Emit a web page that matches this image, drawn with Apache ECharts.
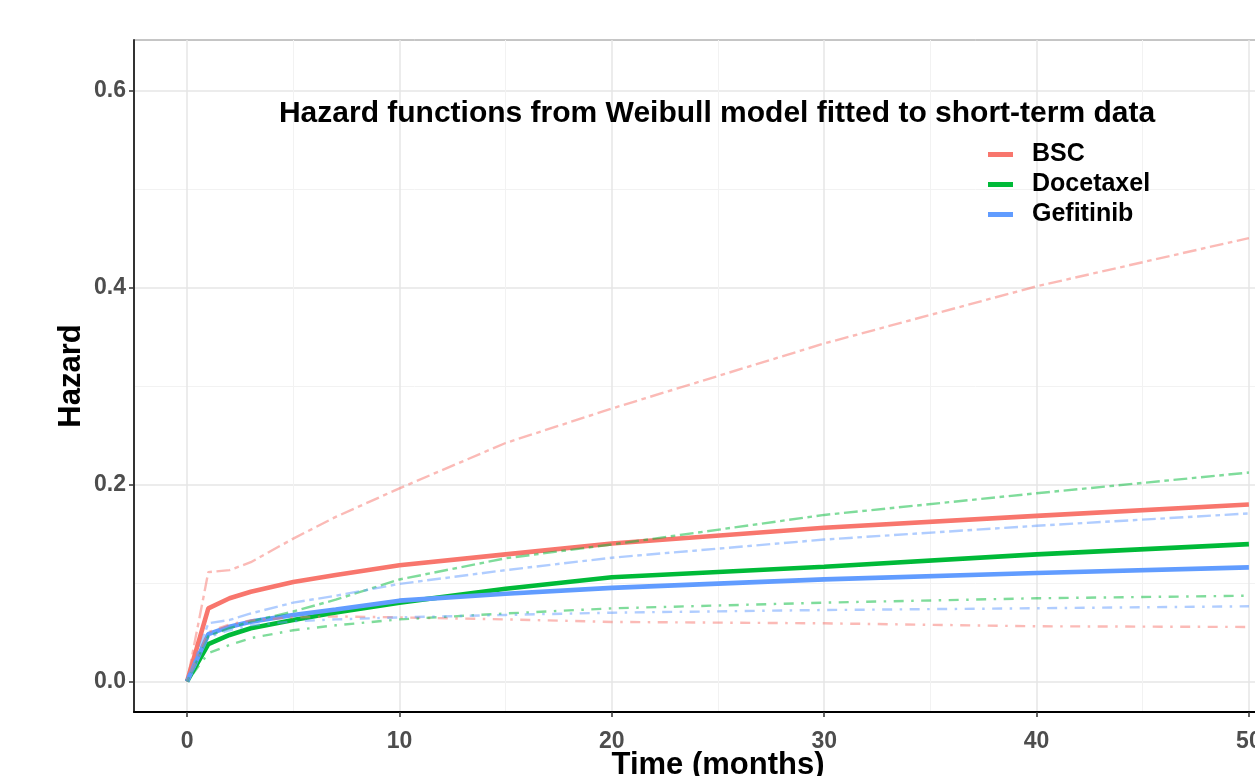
<!DOCTYPE html>
<html>
<head>
<meta charset="utf-8">
<script src="https://cdn.jsdelivr.net/npm/echarts@6/dist/echarts.min.js"></script>
<style>
  html, body { margin: 0; padding: 0; background: #ffffff; }
  #chart { width: 1255px; height: 776px; }
</style>
</head>
<body>
<div id="chart"></div>
<script>
// months at which the hazard curves are read
const times = [0, 1, 2, 3, 5, 7, 10, 15, 20, 30, 40, 50];

// fitted hazards (solid)
const bscFit = [0, 0.0742, 0.0844, 0.091, 0.101, 0.108, 0.118, 0.129, 0.140, 0.156, 0.168, 0.1796];
const docFit = [0, 0.038, 0.0472, 0.054, 0.0624, 0.070, 0.080, 0.094, 0.1057, 0.1164, 0.129, 0.1394];
const gefFit = [0, 0.048, 0.0556, 0.0607, 0.0675, 0.073, 0.082, 0.089, 0.095, 0.1036, 0.110, 0.1158];

// upper limits (twodash)
const bscUpper = [0, 0.111, 0.113, 0.121, 0.145, 0.167, 0.196, 0.242, 0.277, 0.343, 0.401, 0.450];
const docUpper = [0, 0.046, 0.054, 0.061, 0.071, 0.083, 0.1035, 0.125, 0.139, 0.169, 0.191, 0.212];
const gefUpper = [0, 0.059, 0.0624, 0.069, 0.080, 0.087, 0.099, 0.113, 0.1256, 0.144, 0.158, 0.1705];

// lower limits (dotdash)
const bscLower = [0, 0.05, 0.058, 0.062, 0.065, 0.066, 0.065, 0.063, 0.0604, 0.059, 0.056, 0.0553];
const docLower = [0, 0.0287, 0.037, 0.044, 0.052, 0.057, 0.063, 0.069, 0.0742, 0.080, 0.0844, 0.087];
const gefLower = [0, 0.045, 0.052, 0.057, 0.061, 0.063, 0.065, 0.0675, 0.0698, 0.0725, 0.0743, 0.0763];

const groups = ['BSC', 'Docetaxel', 'Gefitinib'];
const colors = ['#F8766D', '#00BA38', '#619CFF'];

const xTicks = [0, 10, 20, 30, 40, 50];
const yTicks = [0, 0.2, 0.4, 0.6];

const FONT = '"Liberation Sans", Arial, sans-serif';

function pairs(ys) {
  return times.map((t, i) => [t, ys[i]]);
}

function mkLine(name, ys, color, kind) {
  let lineStyle = { width: 4.6, color: color };
  if (kind == 'upper') lineStyle = { width: 2.4, color: color, opacity: 0.5, type: [4.6, 4.6, 13.8, 4.6] };
  if (kind == 'lower') lineStyle = { width: 2.4, color: color, opacity: 0.5, type: [2.5, 7.5, 10, 7.5] };
  return {
    name: name,
    type: 'line',
    data: pairs(ys),
    symbol: 'none',
    color: color,
    lineStyle: lineStyle,
    emphasis: { disabled: true },
    animation: false
  };
}

const chart = echarts.init(document.getElementById('chart'), null, { renderer: 'canvas' });

const series = [
  mkLine('BSC', bscFit, colors[0], 'fit'),
  mkLine('Docetaxel', docFit, colors[1], 'fit'),
  mkLine('Gefitinib', gefFit, colors[2], 'fit'),
  mkLine('BSC upper', bscUpper, colors[0], 'upper'),
  mkLine('Docetaxel upper', docUpper, colors[1], 'upper'),
  mkLine('Gefitinib upper', gefUpper, colors[2], 'upper'),
  mkLine('BSC lower', bscLower, colors[0], 'lower'),
  mkLine('Docetaxel lower', docLower, colors[1], 'lower'),
  mkLine('Gefitinib lower', gefLower, colors[2], 'lower')
];

chart.setOption({
  backgroundColor: '#ffffff',
  animation: false,
  title: {
    text: 'Hazard functions from Weibull model fitted to short-term data',
    left: 712,
    top: 94,
    textAlign: 'center',
    textStyle: { fontFamily: FONT, fontSize: 30, fontWeight: 'bold', color: '#000000' }
  },
  legend: {
    data: groups,
    orient: 'vertical',
    left: 983,
    top: 137,
    icon: 'rect',
    itemWidth: 25,
    itemHeight: 5,
    itemGap: 5,
    selectedMode: false,
    textStyle: { fontFamily: FONT, fontSize: 25, fontWeight: 'bold', color: '#000000', padding: [0, 0, 0, 14] }
  },
  grid: {
    left: 134,
    right: -47,
    top: 40,
    bottom: 64,
    show: true,
    borderColor: '#8c8c8c',
    borderWidth: 1,
    containLabel: false,
    outerBoundsMode: 'none'
  },
  xAxis: {
    type: 'value',
    min: -2.5,
    max: 52.5,
    splitNumber: 5,
    name: 'Time (months)',
    nameLocation: 'middle',
    nameGap: 38,
    nameMoveOverlap: false,
    nameTextStyle: { fontFamily: FONT, fontSize: 31, fontWeight: 'bold', color: '#000000' },
    axisLine: { show: true, onZero: false, lineStyle: { color: '#000000', width: 2 } },
    axisTick: { show: true, length: 5, customValues: xTicks, lineStyle: { color: '#333333', width: 1.5 } },
    axisLabel: {
      customValues: xTicks,
      margin: 18,
      fontFamily: FONT, fontSize: 23, fontWeight: 'bold', color: '#4D4D4D'
    },
    splitLine: { show: true, lineStyle: { color: '#e6e6e6', width: 1.5 } },
    minorTick: { show: false, splitNumber: 2 },
    minorSplitLine: { show: true, lineStyle: { color: '#f2f2f2', width: 1 } }
  },
  yAxis: {
    type: 'value',
    min: -0.031,
    max: 0.651,
    splitNumber: 3,
    name: 'Hazard',
    nameLocation: 'middle',
    nameGap: 47,
    nameMoveOverlap: false,
    nameTextStyle: { fontFamily: FONT, fontSize: 31, fontWeight: 'bold', color: '#000000' },
    axisLine: { show: true, onZero: false, lineStyle: { color: '#333333', width: 2 } },
    axisTick: { show: true, length: 5, customValues: yTicks, lineStyle: { color: '#333333', width: 1.5 } },
    axisLabel: {
      customValues: yTicks,
      margin: 8,
      formatter: v => v.toFixed(1),
      fontFamily: FONT, fontSize: 23, fontWeight: 'bold', color: '#4D4D4D'
    },
    splitLine: { show: true, lineStyle: { color: '#e6e6e6', width: 1.5 } },
    minorTick: { show: false, splitNumber: 2 },
    minorSplitLine: { show: true, lineStyle: { color: '#f2f2f2', width: 1 } }
  },
  series: series
});
</script>
</body>
</html>
